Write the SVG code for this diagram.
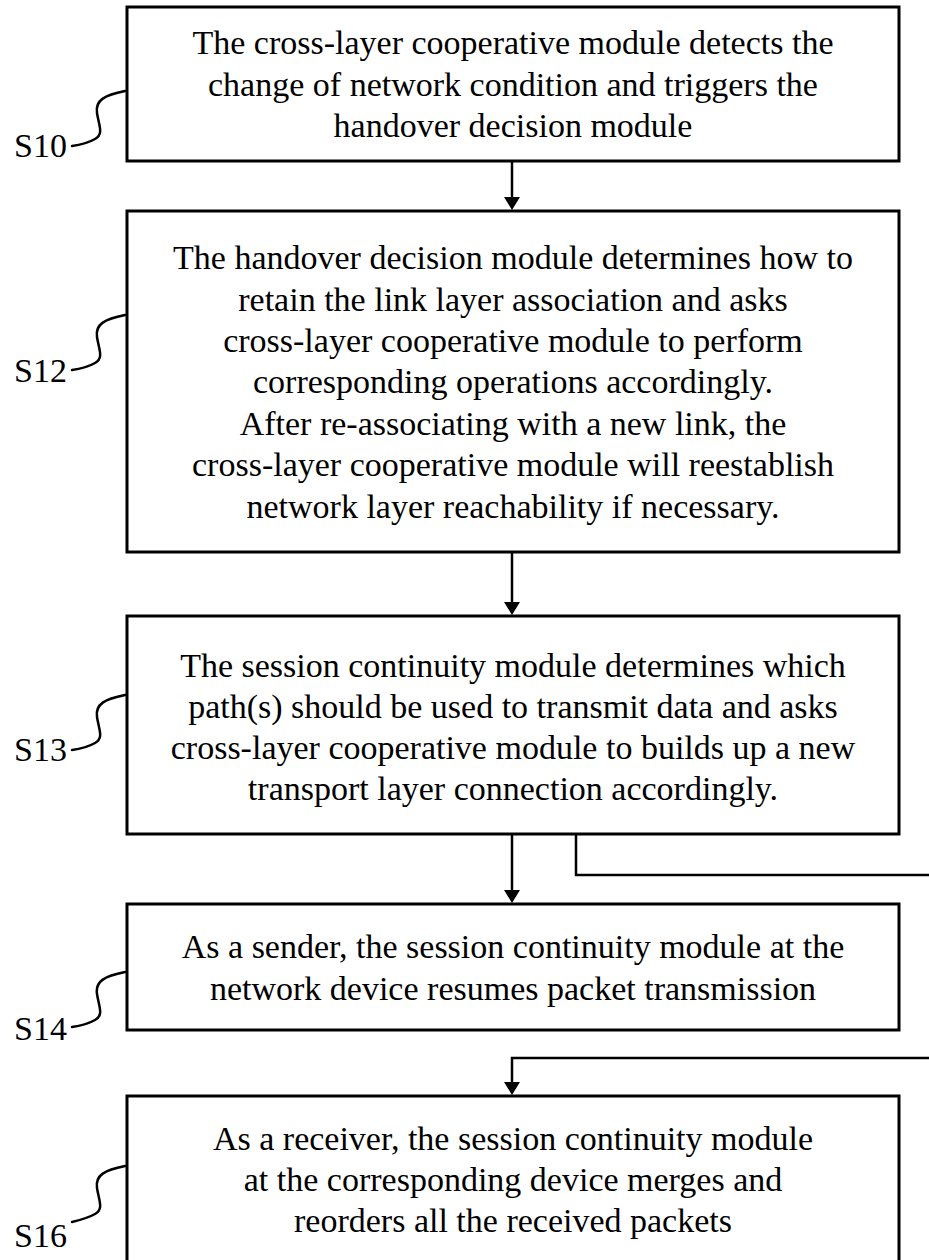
<svg xmlns="http://www.w3.org/2000/svg" width="929" height="1260" viewBox="0 0 929 1260">
<style>
.box{fill:#fff;stroke:#000;stroke-width:3}
.t{font-family:"Liberation Serif","Times New Roman",serif;font-size:34px;fill:#000;text-anchor:middle}
.lbl{font-family:"Liberation Serif","Times New Roman",serif;font-size:34px;fill:#000}
.ln{fill:none;stroke:#000;stroke-width:2.5}
.sq{fill:none;stroke:#000;stroke-width:2.5;stroke-linecap:round}
</style>
<defs>
<marker id="ah" markerWidth="16" markerHeight="14" viewBox="0 0 16 14" refX="8" refY="14" orient="auto-start-reverse" markerUnits="userSpaceOnUse">
<path d="M0,0 L16,0 L8,14 Z" fill="#000"/>
</marker>
</defs>
<rect width="929" height="1260" fill="#fff"/>
<g id="connectors">
<line class="ln" x1="512" y1="161" x2="512" y2="197"/>
<path d="M504,197 L520,197 L512,210 Z" fill="#000"/>
<line class="ln" x1="512" y1="552" x2="512" y2="602"/>
<path d="M504,602 L520,602 L512,615 Z" fill="#000"/>
<line class="ln" x1="512" y1="834" x2="512" y2="890"/>
<path d="M504,890 L520,890 L512,903 Z" fill="#000"/>
<polyline class="ln" points="576,834 576,875 929,875"/>
<polyline class="ln" points="929,1058 512,1058 512,1082"/>
<path d="M504,1082 L520,1082 L512,1095 Z" fill="#000"/>
</g>
<g id="S10">
<rect class="box" x="127" y="7" width="772" height="154"/>
<text class="t" x="513" y="54">The cross-layer cooperative module detects the</text>
<text class="t" x="513" y="96">change of network condition and triggers the</text>
<text class="t" x="513" y="137">handover decision module</text>
<path class="sq" d="M125,91 C105,95 95,100 97,113 C99,126 104,134 95,139 C88,143 80,145 72,146"/>
<text class="lbl" x="14" y="157">S10</text>
</g>
<g id="S12">
<rect class="box" x="127" y="211" width="772" height="341"/>
<text class="t" x="513" y="269">The handover decision module determines how to</text>
<text class="t" x="513" y="311">retain the link layer association and asks</text>
<text class="t" x="513" y="352">cross-layer cooperative module to perform</text>
<text class="t" x="513" y="393">corresponding operations accordingly.</text>
<text class="t" x="513" y="435">After re-associating with a new link, the</text>
<text class="t" x="513" y="476">cross-layer cooperative module will reestablish</text>
<text class="t" x="513" y="518">network layer reachability if necessary.</text>
<path class="sq" d="M125,315 C105,319 95,324 97,337 C99,350 104,358 95,363 C88,367 80,369 72,370"/>
<text class="lbl" x="14" y="382">S12</text>
</g>
<g id="S13">
<rect class="box" x="127" y="616" width="772" height="218"/>
<text class="t" x="513" y="677">The session continuity module determines which</text>
<text class="t" x="513" y="718">path(s) should be used to transmit data and asks</text>
<text class="t" x="513" y="759">cross-layer cooperative module to builds up a new</text>
<text class="t" x="513" y="800">transport layer connection accordingly.</text>
<path class="sq" d="M125,695 C105,699 95,704 97,717 C99,730 104,738 95,743 C88,747 80,749 72,750"/>
<text class="lbl" x="14" y="761">S13</text>
</g>
<g id="S14">
<rect class="box" x="127" y="904" width="772" height="126"/>
<text class="t" x="513" y="958">As a sender, the session continuity module at the</text>
<text class="t" x="513" y="1000">network device resumes packet transmission</text>
<path class="sq" d="M125,972 C105,976 95,981 97,994 C99,1007 104,1015 95,1020 C88,1024 80,1026 72,1027"/>
<text class="lbl" x="14" y="1040">S14</text>
</g>
<g id="S16">
<rect class="box" x="127" y="1096" width="772" height="180"/>
<text class="t" x="513" y="1150">As a receiver, the session continuity module</text>
<text class="t" x="513" y="1191">at the corresponding device merges and</text>
<text class="t" x="513" y="1232">reorders all the received packets</text>
<path class="sq" d="M125,1166 C105,1170 95,1175 97,1188 C99,1201 104,1209 95,1214 C88,1218 80,1220 72,1222"/>
<text class="lbl" x="14" y="1247">S16</text>
</g>
</svg>
